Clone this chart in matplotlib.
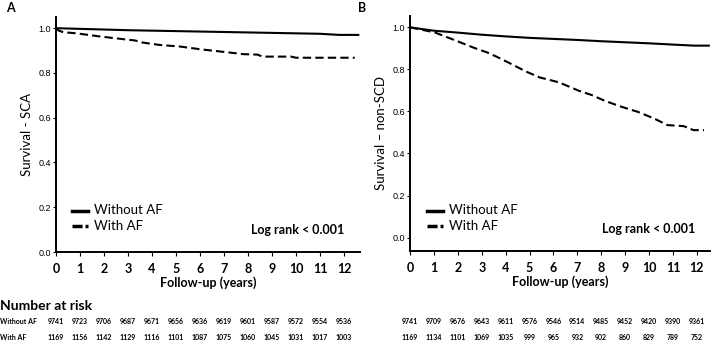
import matplotlib
matplotlib.use("Agg")
import matplotlib.pyplot as plt
import matplotlib.transforms as mtransforms

# Panel A - SCA
a_t_noaf = [0, 1, 2, 3, 4, 5, 6, 7, 8, 9, 10, 11, 11.8, 12.6]
a_s_noaf = [1.0, 0.997, 0.994, 0.991, 0.989, 0.987, 0.985, 0.983, 0.981, 0.979, 0.977, 0.975, 0.970, 0.970]
a_t_af = [0, 0.1, 0.3, 0.86, 1.83, 2.8, 3.3, 3.6, 4.33, 5.17, 6.0, 6.83, 7.5, 7.8, 8.4, 8.6,
          9.8, 10.0, 12.45]
a_s_af = [1.0, 0.99, 0.982, 0.977, 0.963, 0.951, 0.945, 0.936, 0.925, 0.918, 0.906, 0.896,
          0.888, 0.884, 0.882, 0.873, 0.873, 0.868, 0.868]

# Panel B - non-SCD
b_t_noaf = [0, 1, 2, 3, 4, 5, 6, 7, 8, 9, 10, 11, 11.9, 12.5]
b_s_noaf = [1.0, 0.984, 0.975, 0.965, 0.957, 0.950, 0.945, 0.940, 0.934, 0.929, 0.924, 0.918, 0.913, 0.913]
b_t_af = [0, 1.03, 1.85, 2.67, 3.22, 3.63, 4.18, 4.87, 5.42, 6.24, 7.07, 7.6, 8.16, 8.85,
          9.53, 10.2, 10.77, 11.45, 11.86, 12.3]
b_s_af = [1.0, 0.976, 0.940, 0.903, 0.881, 0.860, 0.829, 0.789, 0.762, 0.738, 0.698, 0.678,
          0.650, 0.622, 0.598, 0.567, 0.535, 0.530, 0.511, 0.511]

years = list(range(13))
a_risk_noaf = [9741, 9723, 9706, 9687, 9671, 9656, 9636, 9619, 9601, 9587, 9572, 9554, 9536]
a_risk_af = [1169, 1156, 1142, 1129, 1116, 1101, 1087, 1075, 1060, 1045, 1031, 1017, 1003]
b_risk_noaf = [9741, 9709, 9676, 9643, 9611, 9576, 9546, 9514, 9485, 9452, 9420, 9390, 9361]
b_risk_af = [1169, 1134, 1101, 1069, 1035, 999, 965, 932, 902, 860, 829, 789, 752]

W, H = 714, 344
fig = plt.figure(figsize=(W / 100, H / 100), dpi=100)

def px_box(x0, x1, ytop, ybot):
    return [x0 / W, 1 - ybot / H, (x1 - x0) / W, (ybot - ytop) / H]

axA = fig.add_axes(px_box(56, 360, 17, 252))
axB = fig.add_axes(px_box(410, 710, 16, 251))

def style_axis(ax, ylabel, xmax, ymin, ymax):
    ax.set_xlim(0, xmax)
    ax.set_ylim(ymin, ymax)
    for s in ["top", "right"]:
        ax.spines[s].set_visible(False)
    for s in ["left", "bottom"]:
        ax.spines[s].set_linewidth(1.4)
    ax.set_xticks(years)
    ax.set_xticklabels([str(y) for y in years], fontfamily="Lato", fontweight="bold", fontsize=9)
    ax.set_yticks([0, 0.2, 0.4, 0.6, 0.8, 1.0])
    ax.set_yticklabels(["0.0", "0.2", "0.4", "0.6", "0.8", "1.0"],
                       fontfamily="Liberation Sans", fontsize=6.5)
    ax.tick_params(axis="x", length=3, width=0.8, pad=5)
    ax.tick_params(axis="y", length=2.5, width=0.8, pad=1)
    ax.set_xlabel("Follow-up (years)", fontfamily="Lato", fontweight="bold", fontsize=9, labelpad=1)
    ax.set_ylabel(ylabel, fontfamily="Lato", fontsize=9.5, labelpad=4)

style_axis(axA, "Survival - SCA", 12.67, 0, 1.05)
style_axis(axB, "Survival \u2013 non-SCD", 12.55, -0.064, 1.054)

for ax, tn, sn, ta, sa in [(axA, a_t_noaf, a_s_noaf, a_t_af, a_s_af),
                           (axB, b_t_noaf, b_s_noaf, b_t_af, b_s_af)]:
    ax.plot(tn, sn, color="black", lw=1.5)
    ax.plot(ta, sa, color="black", lw=1.5, dashes=(4, 2))
    ax.text(0.64, 0.095, "Log rank < 0.001", transform=ax.transAxes, fontfamily="Lato",
            fontweight="bold", fontsize=9, va="center")

# legends drawn by hand in pixel positions
for x0 in (72, 427):
    fig.add_artist(plt.Line2D([x0 / W, (x0 + 16) / W], [1 - 210.5 / H] * 2, color="black", lw=2.5))
    fig.add_artist(plt.Line2D([x0 / W, (x0 + 16) / W], [1 - 225.5 / H] * 2, color="black", lw=2.5,
                              dashes=(2.9, 0.86)))
    fig.text((x0 + 22) / W, 1 - 210.5 / H, "Without AF", fontfamily="Lato", fontsize=9.5, va="center")
    fig.text((x0 + 22) / W, 1 - 225.5 / H, "With AF", fontfamily="Lato", fontsize=9.5, va="center")

fig.text(6 / W, 1 - 8 / H, "A", fontfamily="Lato", fontweight="bold", fontsize=9, va="center")
fig.text(358 / W, 1 - 8 / H, "B", fontfamily="Lato", fontweight="bold", fontsize=9, va="center")

# number at risk table
fig.text(0, 1 - 306 / H, "Number at risk", fontfamily="Lato", fontweight="bold", fontsize=10, va="center")
fig.text(0, 1 - 321.5 / H, "Without AF", fontfamily="Lato", fontweight="bold", fontsize=5, va="center")
fig.text(0, 1 - 337 / H, "With AF", fontfamily="Lato", fontweight="bold", fontsize=5, va="center")
for ax, r1, r2 in [(axA, a_risk_noaf, a_risk_af), (axB, b_risk_noaf, b_risk_af)]:
    tr = mtransforms.blended_transform_factory(ax.transData, fig.transFigure)
    for y, n1, n2 in zip(years, r1, r2):
        ax.text(y, 1 - 321.5 / H, str(n1), transform=tr, ha="center", va="center",
                fontfamily="Lato", fontweight="bold", fontsize=5, clip_on=False)
        ax.text(y, 1 - 337 / H, str(n2), transform=tr, ha="center", va="center",
                fontfamily="Lato", fontweight="bold", fontsize=5, clip_on=False)

fig.savefig("out.png", dpi=100)
